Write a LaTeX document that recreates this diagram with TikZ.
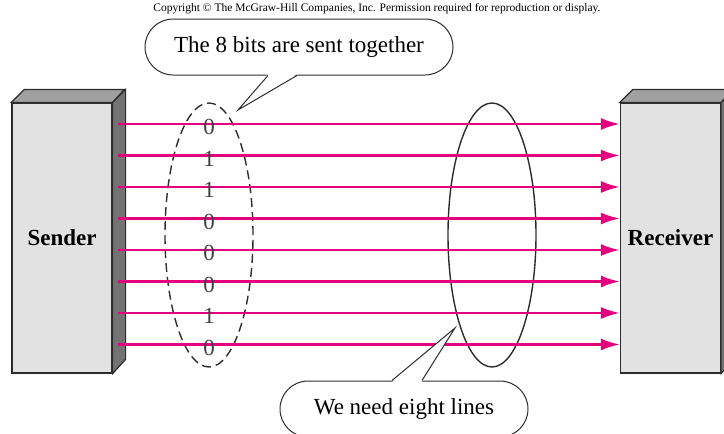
\documentclass[tikz,border=0pt]{standalone}
\usepackage{fontspec}
\setmainfont{Liberation Serif}
\usetikzlibrary{arrows.meta,shapes.geometric}
\definecolor{wire}{RGB}{228,0,124}
\definecolor{boxfront}{RGB}{226,226,226}
\definecolor{boxtop}{RGB}{160,160,160}
\definecolor{boxside}{RGB}{115,115,115}
\definecolor{edge}{RGB}{45,45,45}
\tikzset{
  station/.style={draw=edge, line width=1.2pt, fill=boxfront, minimum width=100pt,
    minimum height=270pt, inner sep=0pt, font=\fontsize{23}{27}\selectfont\bfseries},
  wireline/.style={wire, line width=2.4pt, -{Latex[length=19pt,width=12pt]}},
  bitgroup/.style={ellipse, draw=edge, line width=1.4pt, minimum width=88pt,
    minimum height=264pt, inner sep=0pt},
  callout/.style={draw=edge, line width=1pt, fill=white, rounded corners=28pt,
    minimum height=56pt, font=\fontsize{23}{27}\selectfont},
  bit/.style={text=black!75, font=\fontsize{23}{27}\selectfont}
}
\begin{document}
\begin{tikzpicture}[x=1pt,y=-1pt]
  \useasboundingbox (0,0) rectangle (724,434);
  \node (copyright) at (377,9) {\fontsize{11.5}{13}\selectfont Copyright \textcopyright{} The McGraw-Hill Companies, Inc. Permission required for reproduction or display.};
  \node[station] (sender) at (62,238) {Sender};
  \node[station] (receiver) at (670.5,238) {Receiver};
  \foreach \s in {sender,receiver} {
    \draw[edge, line width=1.2pt, fill=boxtop] (\s.north west) -- ++(13,-13) -- ++(100,0) -- (\s.north east) -- cycle;
    \draw[edge, line width=1.2pt, fill=boxside] (\s.north east) -- ++(13,-13) -- ++(0,270) -- (\s.south east) -- cycle;
  }
  \node[bitgroup, dash pattern=on 9pt off 5pt] (bits) at (209,235) {};
  \node[bitgroup] (lines) at (492,235) {};
  \foreach \b [count=\i] in {0,1,1,0,0,0,1,0} {
    \coordinate (s\i) at (118,{124+31.5*(\i-1)});
    \coordinate (r\i) at (receiver.west |- s\i);
    \draw[wireline] (s\i) -- (r\i);
    \node[bit] (b\i) at ([yshift=-3pt]bits.center |- s\i) {\b};
  }
  \node[callout, minimum width=308pt] (together) at (299,47) {The 8 bits are sent together};
  \coordinate (togethertip) at (238,110);
  \fill[white] ([xshift=-31pt,yshift=1.5pt]together.south) -- (togethertip) -- ([xshift=-2pt,yshift=1.5pt]together.south) -- cycle;
  \draw[edge, line width=1pt] ([xshift=-31pt]together.south) -- (togethertip) -- ([xshift=-2pt]together.south);
  \node[callout, minimum width=248pt] (eight) at (404,409) {We need eight lines};
  \coordinate (eighttip) at (455,328);
  \fill[white] ([xshift=-12pt,yshift=-1.5pt]eight.north) -- (eighttip) -- ([xshift=18pt,yshift=-1.5pt]eight.north) -- cycle;
  \draw[edge, line width=1pt] ([xshift=-12pt]eight.north) -- (eighttip) -- ([xshift=18pt]eight.north);
\end{tikzpicture}
\end{document}
